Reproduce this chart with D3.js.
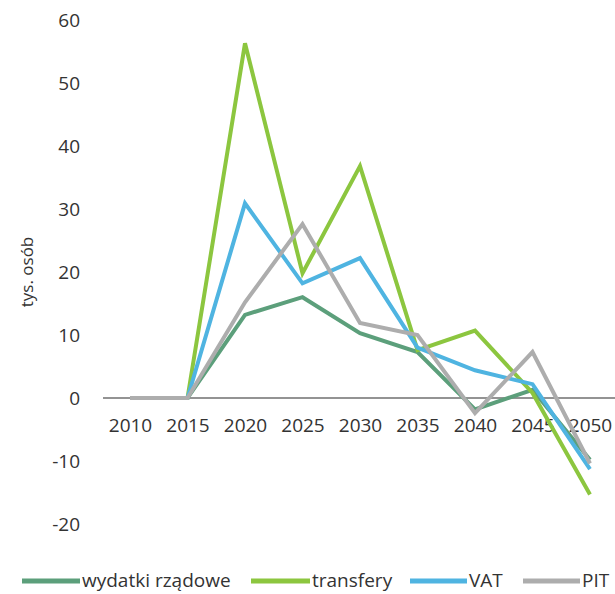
<!DOCTYPE html>
<html>
<head>
<meta charset="utf-8">
<script src="https://cdn.jsdelivr.net/npm/d3@7"></script>
<style>
  body { margin: 0; background: #fff; }
  svg { display: block; font-family: "Open Sans", sans-serif; }
  text { fill: #333; }
</style>
</head>
<body>
<script>
// Dane
var lata = [2010, 2015, 2020, 2025, 2030, 2035, 2040, 2045, 2050];
var wydatki = [0, 0, 13.2, 16, 10.3, 7.3, -1.8, 1.3, -9.8];
var transfery = [0, 0, 56.3, 19.8, 36.8, 7.6, 10.7, 0.8, -15.3];
var vat = [0, 0, 30.9, 18.2, 22.2, 8, 4.4, 2.2, -11.3];
var pit = [0, 0, 15.2, 27.6, 11.9, 10, -2.4, 7.3, -10.4];
var osY = [-20, -10, 0, 10, 20, 30, 40, 50, 60];

var serie = [
  { nazwa: "wydatki rządowe", wartosci: wydatki, kolor: "#5c9f7b" },
  { nazwa: "transfery", wartosci: transfery, kolor: "#8cc63f" },
  { nazwa: "VAT", wartosci: vat, kolor: "#4fb4e1" },
  { nazwa: "PIT", wartosci: pit, kolor: "#adadad" }
];

var width = 615, height = 594;

var svg = d3.select("body").append("svg")
  .attr("width", width)
  .attr("height", height);

// Skale
var x = d3.scalePoint().domain(lata).range([130, 590]);
var y = d3.scaleLinear().domain([-20, 60]).range([524, 20]);

// Oś Y
var gy = svg.append("g")
  .attr("transform", "translate(82,0)")
  .call(d3.axisLeft(y).tickValues(osY).tickSize(0).tickPadding(2)
          .tickFormat(function(d) { return String(d); }));
gy.select(".domain").remove();
gy.selectAll("text").style("font-size", "19px").style("fill", "#333").style("font-family", "Open Sans");

svg.append("text")
  .attr("transform", "translate(33," + y(20) + ") rotate(-90)")
  .attr("text-anchor", "middle")
  .style("font-size", "17px")
  .text("tys. osób");

// Linia zera
svg.append("line")
  .attr("x1", 103).attr("x2", width)
  .attr("y1", y(0)).attr("y2", y(0))
  .attr("stroke", "#939393")
  .attr("stroke-width", 2);

// Oś X
var gx = svg.append("g")
  .attr("transform", "translate(0," + y(0) + ")")
  .call(d3.axisBottom(x).tickSize(0).tickPadding(21));
gx.select(".domain").remove();
gx.selectAll("text").style("font-size", "19px").style("fill", "#333").style("font-family", "Open Sans");

// Linie
var line = d3.line()
  .x(function(d, i) { return x(lata[i]); })
  .y(function(d) { return y(d); });

serie.forEach(function(s) {
  svg.append("path")
    .datum(s.wartosci)
    .attr("fill", "none")
    .attr("stroke", s.kolor)
    .attr("stroke-width", 4)
    .attr("stroke-linejoin", "miter")
    .attr("d", line);
});

// Legenda
var pozycje = [[22, 80], [251, 310], [410, 467], [523, 580]];
var leg = svg.append("g");
serie.forEach(function(s, i) {
  leg.append("line")
    .attr("x1", pozycje[i][0]).attr("x2", pozycje[i][1])
    .attr("y1", 581).attr("y2", 581)
    .attr("stroke", s.kolor)
    .attr("stroke-width", 5);
  leg.append("text")
    .attr("x", pozycje[i][1] + 2)
    .attr("y", 587)
    .style("font-size", "19px")
    .text(s.nazwa);
});
</script>
</body>
</html>
